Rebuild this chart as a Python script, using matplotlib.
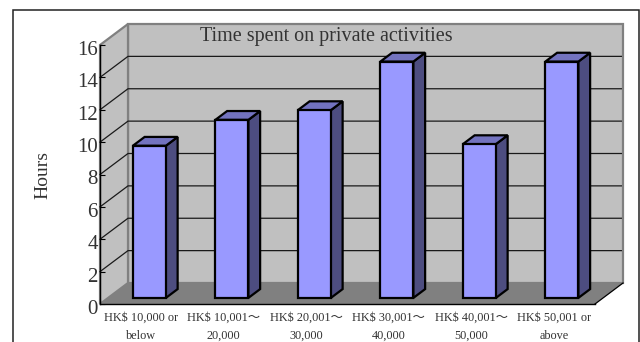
import matplotlib
matplotlib.use("Agg")
import matplotlib.pyplot as plt
from matplotlib.patches import Polygon, Rectangle
from matplotlib.lines import Line2D
from matplotlib.transforms import ScaledTranslation

categories = ["HK$ 10,000 or\nbelow", "HK$ 10,001～\n20,000", "HK$ 20,001～\n30,000",
              "HK$ 30,001～\n40,000", "HK$ 40,001～\n50,000", "HK$ 50,001 or\nabove"]
hours = [9.4, 11.0, 11.6, 14.6, 9.5, 14.6]
y_ticks = [0, 2, 4, 6, 8, 10, 12, 14, 16]
title_text = "Time spent on private activities"
y_title = "Hours"

W, H = 640, 342
L, R, T, B = 100, 595, 45, 304      # front plane in pixels
OX, OY = 28, 21                     # depth offset in pixels
serif = ["Liberation Serif", "Noto Sans CJK TC"]
plt.rcParams["font.family"] = serif

fig = plt.figure(figsize=(W / 100, H / 100), dpi=100, facecolor="white")
fig.add_artist(Rectangle((12.5 / W, -0.1), 626.5 / W, 1.1 - 10.5 / H, transform=fig.transFigure,
                         fill=False, ec="#222222", lw=1.1))

ax = fig.add_axes([L / W, 1 - B / H, (R - L) / W, (B - T) / H])
n = len(categories)
ax.set_xlim(0, n)
ax.set_ylim(0, y_ticks[-1])
ax.patch.set_visible(False)
for s in ["top", "right"]:
    ax.spines[s].set_visible(False)
for s in ["left", "bottom"]:
    ax.spines[s].set_color("black")
    ax.spines[s].set_linewidth(1.0)
    ax.spines[s].set_zorder(8)

dx = OX * n / (R - L)
dy = OY * y_ticks[-1] / (B - T)
ymax = y_ticks[-1]


def add_poly(pts, fc, ec="none", lw=0, z=1):
    ax.add_patch(Polygon(pts, closed=True, fc=fc, ec=ec, lw=lw, zorder=z, clip_on=False,
                         joinstyle="miter"))


# walls and floor
add_poly([(dx, dy), (n + dx, dy), (n + dx, ymax + dy), (dx, ymax + dy)], "#C0C0C0", "#808080", 1.6, 1)
add_poly([(0, 0), (dx, dy), (dx, ymax + dy), (0, ymax)], "#C0C0C0", "#808080", 1.6, 1)
add_poly([(0, 0), (n, 0), (n + dx, dy), (dx, dy)], "#808080", z=2)

for v in y_ticks[1:-1]:
    ax.add_line(Line2D([0, dx, n + dx - 0.02], [v, v + dy, v + dy], color="#1a1a1a", lw=0.9, zorder=2,
                       clip_on=False))
ax.add_line(Line2D([n, n + dx], [0, dy], color="black", lw=0.9, zorder=3, clip_on=False))

# bars
gap = 0.3
d0, d1 = 0.29, 0.71
for i, v in enumerate(hours):
    x0 = i + gap + d0 * dx
    x1 = i + 1 - gap + d0 * dx
    y0 = d0 * dy
    sx = (d1 - d0) * dx
    sy = (d1 - d0) * dy
    add_poly([(x1, y0), (x1 + sx, y0 + sy), (x1 + sx, y0 + v + sy), (x1, y0 + v)], "#4D4D80", "black", 1.6, 5)
    add_poly([(x0, y0 + v), (x1, y0 + v), (x1 + sx, y0 + v + sy), (x0 + sx, y0 + v + sy)], "#7373BF", "black", 1.6, 5)
    ax.bar(i + 0.5 + d0 * dx, v, width=1 - 2 * gap, bottom=y0, color="#9999FF", edgecolor="black",
           linewidth=1.6, zorder=6, clip_on=False)

ax.set_yticks(y_ticks)
ax.set_yticklabels([str(v) for v in y_ticks], fontsize=15, color="#333333")
ax.tick_params(axis="y", direction="in", length=3.5, width=0.8, pad=1.5)
shift = ScaledTranslation(0, -3 / 100, fig.dpi_scale_trans)
for lab in ax.get_yticklabels():
    lab.set_transform(lab.get_transform() + shift)

ax.set_xticks(range(n + 1))
ax.set_xticklabels([])
ax.tick_params(axis="x", which="major", direction="in", length=3.5, width=0.8)
ax.set_xticks([i + 0.5 for i in range(n)], minor=True)
ax.set_xticklabels(categories, minor=True, fontsize=8.8, color="#333333", linespacing=1.67)
ax.tick_params(axis="x", which="minor", length=0, pad=5.7)

fig.text(326 / W, 1 - 37 / H, title_text, fontsize=14.5, color="#333333", ha="center", va="center", zorder=10)
fig.text(43 / W, 1 - 175 / H, y_title, fontsize=14, color="#333333", rotation=90, ha="center", va="center")

fig.savefig("out.png", dpi=100)
